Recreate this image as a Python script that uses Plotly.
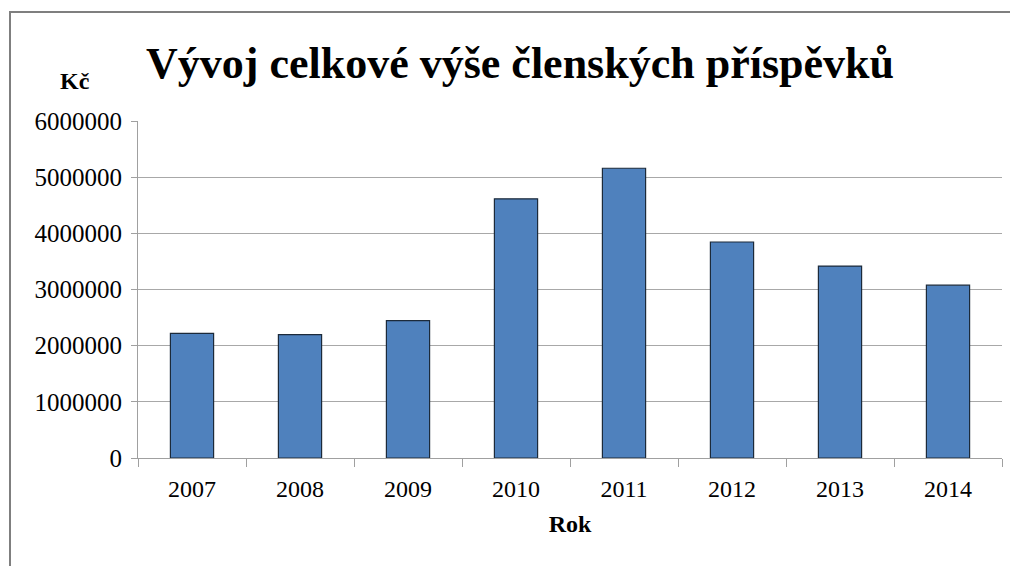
import plotly.graph_objects as go

years = ["2007", "2008", "2009", "2010", "2011", "2012", "2013", "2014"]
values = [2220000, 2196000, 2446000, 4615000, 5159000, 3846000, 3417000, 3077000]
y_ticks = [0, 1000000, 2000000, 3000000, 4000000, 5000000, 6000000]

title_text = "Vývoj celkové výše členských příspěvků"
y_title = "Kč"
x_title = "Rok"

serif = "Liberation Serif, Times New Roman, serif"

fig = go.Figure(go.Bar(
    x=years, y=values, width=0.4,
    marker=dict(color="#4F81BD", line=dict(color="#1c2a3a", width=1.2)),
))

OFF = 8  # page body margin
W, H = 1018, 566
L, R, T, B = 138 - OFF, 16 + OFF, 121 - OFF, 108 + OFF
pw, ph = W - L - R, H - T - B

def px_x(p):
    return (p - OFF - L) / pw

def px_y(p):
    return (H - B - (p - OFF)) / ph

fig.update_layout(
    width=W, height=H,
    margin=dict(l=L, r=R, t=T, b=B),
    paper_bgcolor="white", plot_bgcolor="white",
    showlegend=False,
    font=dict(family=serif, color="black"),
    xaxis=dict(
        type="category", tickson="boundaries", ticks="outside", ticklen=8,
        tickcolor="#a0a0a0", showline=True, linecolor="#a0a0a0", linewidth=1,
        tickfont=dict(size=24, family=serif), showgrid=False, ticklabelstandoff=9,
        title=dict(text="<b>" + x_title + "</b>", font=dict(size=24, family=serif), standoff=14),
    ),
    yaxis=dict(
        range=[0, 6000000], tickvals=y_ticks, ticktext=[str(v) for v in y_ticks],
        ticks="outside", ticklen=6, tickcolor="#a0a0a0",
        showline=True, linecolor="#a0a0a0", linewidth=1,
        showgrid=True, gridcolor="#a8a8a8", gridwidth=1, zeroline=False,
        tickfont=dict(size=25, family=serif), ticklabelstandoff=4,
    ),
    annotations=[
        dict(text="<b>" + title_text + "</b>", xref="paper", yref="paper",
             x=px_x(520), y=px_y(63), xanchor="center", yanchor="middle",
             showarrow=False, font=dict(size=44, family=serif, color="black")),
        dict(text="<b>" + y_title + "</b>", xref="paper", yref="paper",
             x=px_x(75), y=px_y(81), xanchor="center", yanchor="middle",
             showarrow=False, font=dict(size=24, family=serif, color="black")),
    ],
    shapes=[
        dict(type="rect", xref="paper", yref="paper",
             x0=px_x(10), x1=px_x(1040), y0=px_y(600), y1=px_y(12),
             line=dict(color="#7f7f7f", width=2), fillcolor="rgba(0,0,0,0)", layer="below"),
    ],
)

fig.write_html("out.html")
